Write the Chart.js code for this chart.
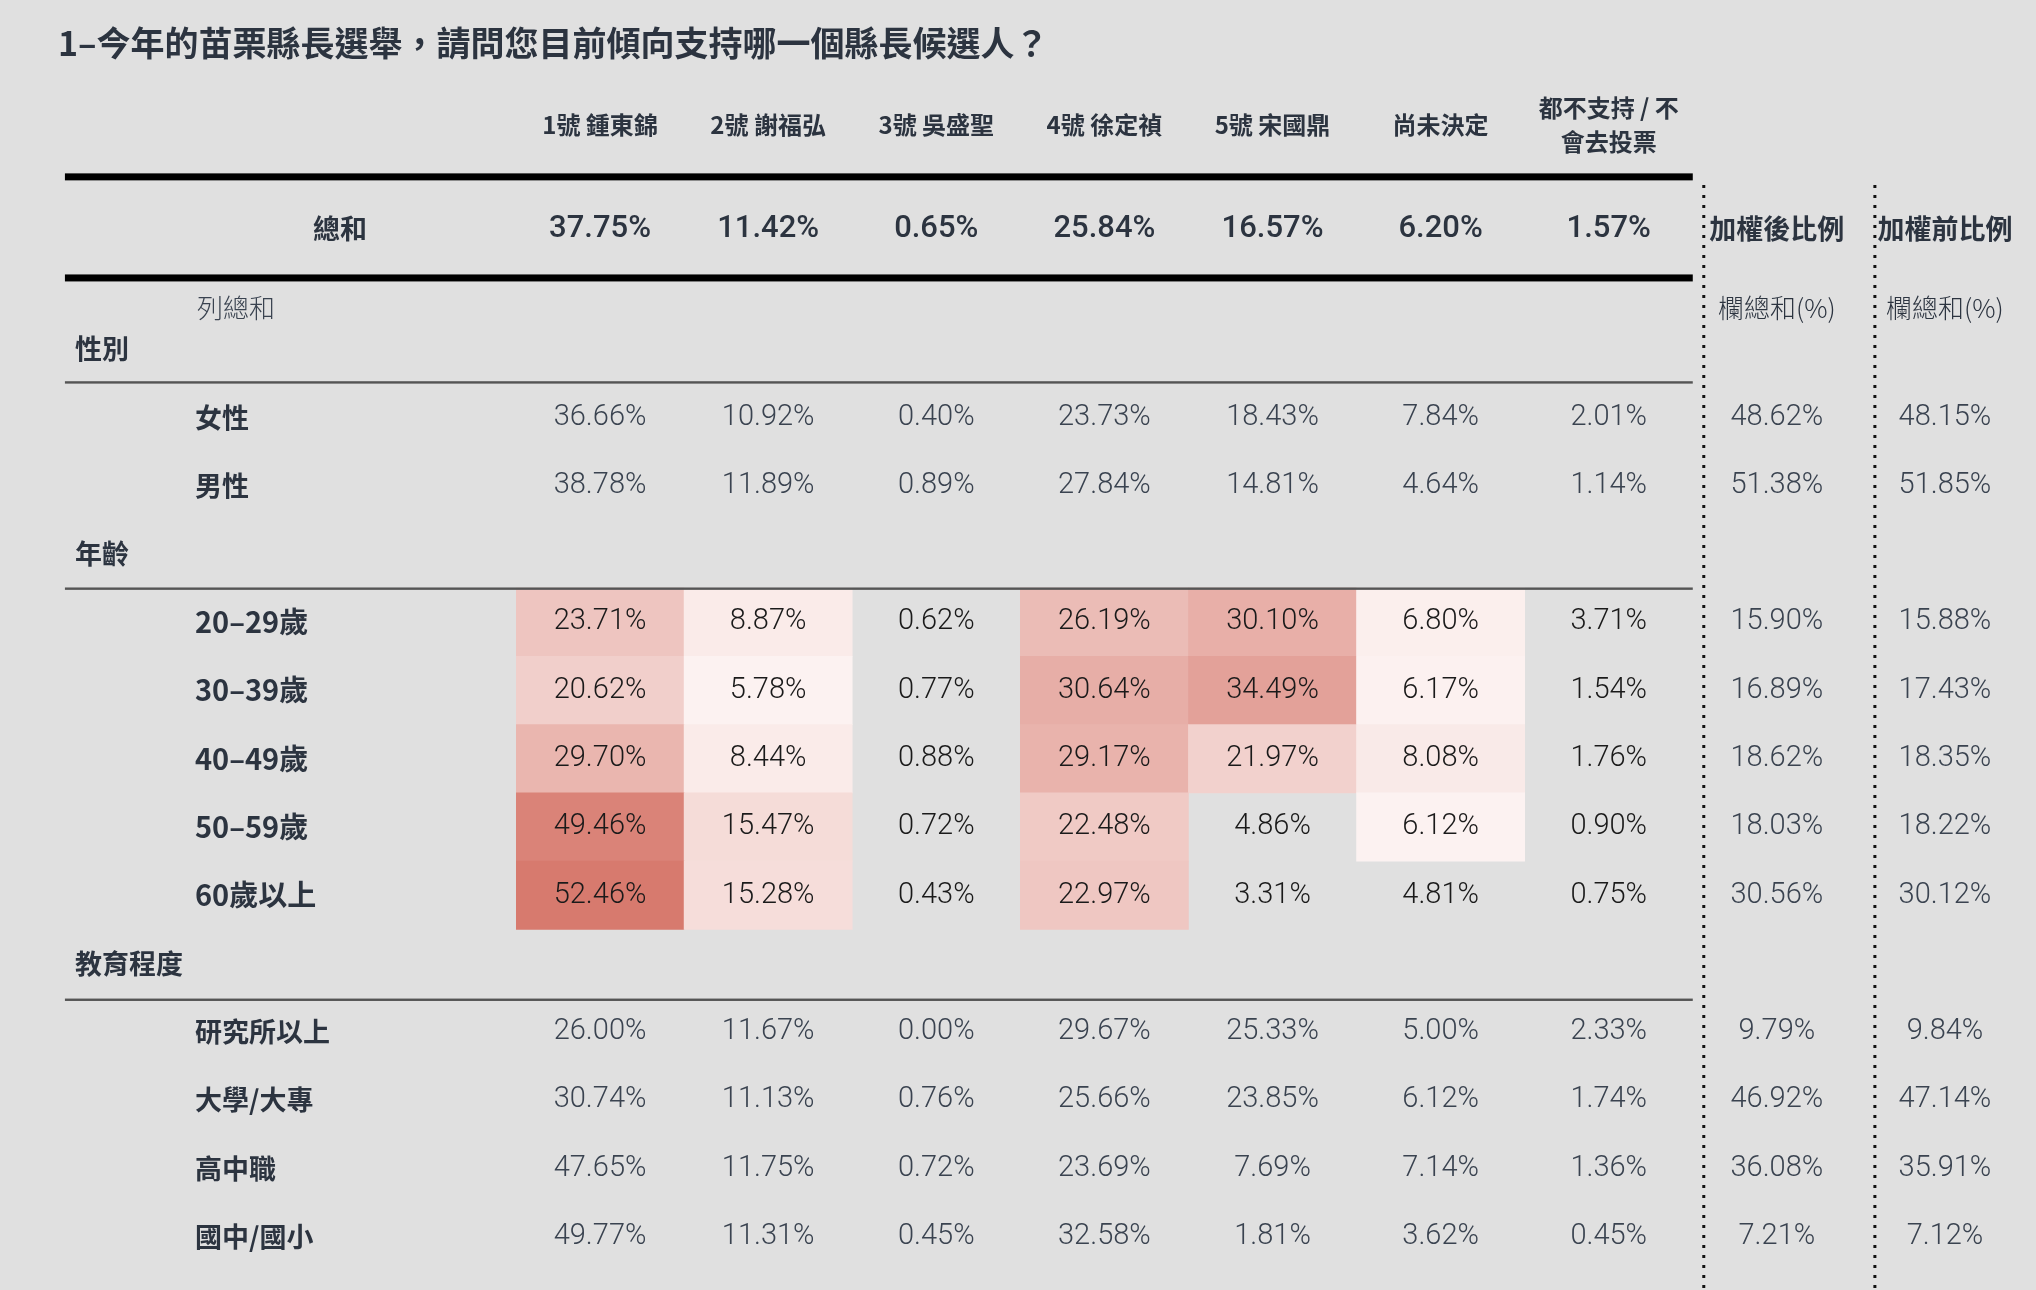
<!DOCTYPE html>
<html><head><meta charset="utf-8">
<script src="https://cdn.jsdelivr.net/npm/chart.js@4/dist/chart.umd.min.js"></script>
<style>html,body{margin:0;padding:0;background:#e0e0e0;}#wrap{width:2036px;height:1290px;}</style>
</head><body><div id="wrap"><canvas id="c"></canvas></div>
<script>
const title = '1–今年的苗栗縣長選舉，請問您目前傾向支持哪一個縣長候選人？';
const columns = ['1號 鍾東錦','2號 謝福弘','3號 吳盛聖','4號 徐定禎','5號 宋國鼎','尚未決定','都不支持 / 不\n會去投票','加權後比例','加權前比例'];
const totalRow = ['37.75%','11.42%','0.65%','25.84%','16.57%','6.20%','1.57%'];
const sections = [{name:'性別',row:-1},{name:'年齡',row:2},{name:'教育程度',row:8}];
const rowLabels = ['女性','男性','20–29歲','30–39歲','40–49歲','50–59歲','60歲以上','研究所以上','大學/大專','高中職','國中/國小'];
const rowIndex  = [0,1,3,4,5,6,7,9,10,11,12];
const values = [
 [36.66,10.92,0.40,23.73,18.43,7.84,2.01,48.62,48.15],
 [38.78,11.89,0.89,27.84,14.81,4.64,1.14,51.38,51.85],
 [23.71,8.87,0.62,26.19,30.10,6.80,3.71,15.90,15.88],
 [20.62,5.78,0.77,30.64,34.49,6.17,1.54,16.89,17.43],
 [29.70,8.44,0.88,29.17,21.97,8.08,1.76,18.62,18.35],
 [49.46,15.47,0.72,22.48,4.86,6.12,0.90,18.03,18.22],
 [52.46,15.28,0.43,22.97,3.31,4.81,0.75,30.56,30.12],
 [26.00,11.67,0.00,29.67,25.33,5.00,2.33,9.79,9.84],
 [30.74,11.13,0.76,25.66,23.85,6.12,1.74,46.92,47.14],
 [47.65,11.75,0.72,23.69,7.69,7.14,1.36,36.08,35.91],
 [49.77,11.31,0.45,32.58,1.81,3.62,0.45,7.21,7.12]
];
// heat shading (0 = near white, 1 = deepest red); null = no fill. Age rows only.
const heatShade = [
 [0.38,0.08,null,0.45,0.55,0.05],
 [0.30,0.02,null,0.56,0.66,0.03],
 [0.50,0.08,null,0.52,0.28,0.09],
 [0.90,0.20,null,0.34,null,0.02],
 [0.97,0.19,null,0.36,null,null]
];
const heatRows = [3,4,5,6,7];

function shadeColor(t){
  const a=[253,245,244], b=[214,118,106];
  const c=a.map((v,i)=>Math.round(v+(b[i]-v)*t));
  return `rgb(${c[0]},${c[1]},${c[2]})`;
}
const heatData=[], heatColors=[];
heatShade.forEach((r,ri)=>r.forEach((t,ci)=>{
  if(t===null) return;
  heatData.push({x:columns[ci], y:[heatRows[ri]-0.5, heatRows[ri]+0.5]});
  heatColors.push(shadeColor(t));
}));

const S = 1.2985;
const textPlugin = {
  id:'tbl',
  afterDatasetsDraw(chart){
    const ctx=chart.ctx, xs=chart.scales.x, ys=chart.scales.y;
    const cx=i=>xs.getPixelForValue(i);
    const Y=v=>ys.getPixelForValue(v);
    const half=(xs.getPixelForValue(1)-xs.getPixelForValue(0))/2;
    const left=50*S, tableRight=cx(6)+half;
    ctx.save();
    ctx.textBaseline='middle';
    // title
    ctx.fillStyle='#2c3440';
    ctx.font='bold 34px "Noto Sans CJK TC", sans-serif';
    ctx.textAlign='left';
    ctx.fillText(title, 58, Y(-5.48));
    // headers
    ctx.textAlign='center';
    ctx.font='bold 24px "Noto Sans CJK TC", sans-serif';
    columns.slice(0,7).forEach((c,i)=>{
      const lines=c.split('\n');
      lines.forEach((l,k)=>ctx.fillText(l,cx(i),Y(-4.28)+(k-(lines.length-1)/2)*34));
    });
    ctx.font='bold 27px "Noto Sans CJK TC", sans-serif';
    ctx.fillText(columns[7],cx(7),Y(-2.76));
    ctx.fillText(columns[8],cx(8),Y(-2.76));
    ctx.font='300 26px "Noto Sans CJK TC", sans-serif';
    ctx.fillText('欄總和(%)',cx(7),Y(-1.6));
    ctx.fillText('欄總和(%)',cx(8),Y(-1.6));
    // thick rules
    ctx.fillStyle='#000';
    ctx.fillRect(left,Y(-3.52)-3.5,tableRight-left,7);
    ctx.fillRect(left,Y(-2.04)-3.5,tableRight-left,7);
    // thin rules
    ctx.fillStyle='#555';
    [-0.51,2.51,8.53].forEach(v=>ctx.fillRect(left,Y(v)-1.2,tableRight-left,2.4));
    // dotted verticals
    ctx.strokeStyle='#111'; ctx.lineWidth=3; ctx.setLineDash([3,7]);
    [6,7].forEach(i=>{const x=cx(i)+half+(i===6?11:14);ctx.beginPath();ctx.moveTo(x,Y(-3.4));ctx.lineTo(x,chart.height);ctx.stroke();});
    ctx.setLineDash([]);
    // total row
    ctx.fillStyle='#2c3440';
    ctx.font='bold 27px "Noto Sans CJK TC", sans-serif';
    ctx.fillText('總和',340,Y(-2.76));
    ctx.font='500 31px Roboto, sans-serif';
    totalRow.forEach((v,i)=>ctx.fillText(v,cx(i),Y(-2.76)));
    // 列總和
    ctx.textAlign='left';
    ctx.font='300 26px "Noto Sans CJK TC", sans-serif';
    ctx.fillStyle='#3a4350';
    ctx.fillText('列總和',197,Y(-1.6));
    // sections
    ctx.fillStyle='#2c3440';
    ctx.font='bold 27px "Noto Sans CJK TC", sans-serif';
    sections.forEach(s=>ctx.fillText(s.name,75,Y(s.row)));
    rowLabels.forEach((l,i)=>{
      ctx.font=(/^\d/.test(l)?'bold 29px':'bold 27px')+' "Noto Sans CJK TC", sans-serif';
      ctx.fillText(l,195,Y(rowIndex[i]));
    });
    // values
    ctx.textAlign='center';
    ctx.font='300 29px Roboto, sans-serif';
    values.forEach((r,ri)=>r.forEach((v,ci)=>{
      const heat = heatRows.includes(rowIndex[ri]) && ci<7;
      ctx.fillStyle = heat ? '#1a1a1a' : '#3a4350';
      ctx.fillText(v.toFixed(2)+'%',cx(ci),Y(rowIndex[ri]));
    }));
    ctx.restore();
  }
};

new Chart(document.getElementById('c'),{
  type:'bar',
  data:{labels:columns,datasets:[{data:heatData,backgroundColor:heatColors,borderWidth:0,categoryPercentage:1,barPercentage:1}]},
  options:{
    responsive:true,maintainAspectRatio:false,animation:false,
    layout:{padding:{left:516,right:7,top:0,bottom:0}},
    plugins:{legend:{display:false},tooltip:{enabled:false}},
    scales:{
      x:{type:'category',display:false,offset:true},
      y:{type:'linear',display:false,reverse:true,min:-6.11,max:12.78}
    }
  },
  plugins:[textPlugin]
});
</script></body></html>
